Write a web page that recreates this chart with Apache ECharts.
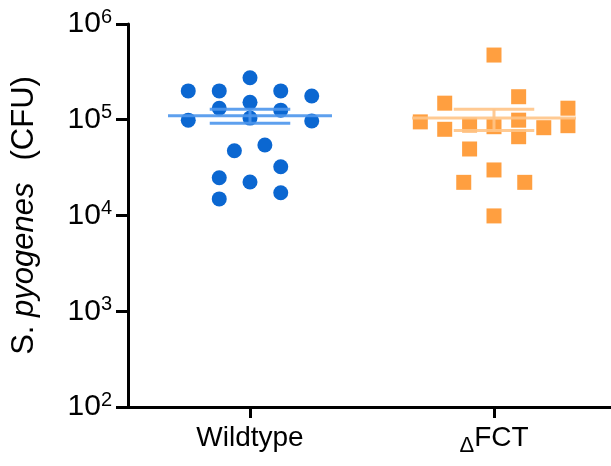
<!DOCTYPE html>
<html>
<head>
<meta charset="utf-8">
<script src="https://cdn.jsdelivr.net/npm/echarts@6/dist/echarts.min.js"></script>
<style>
html,body{margin:0;padding:0;background:#fff;}
#c{width:611px;height:466px;}
</style>
</head>
<body>
<div id="c"></div>
<script>
// ---- data ----
const categories = ['Wildtype', 'ΔFCT'];
const categoryPositions = [0, 1];

// horizontal jitter offsets (in category units) and CFU values
const wildtypeOffsets = [-0.253, -0.126, 0, 0.126, 0.253, -0.126, 0, 0.126, -0.253, 0, 0.253, -0.064, 0.061, 0.126, -0.126, 0, 0.126, -0.126];
const wildtypeValues  = [2.0e5, 2.0e5, 2.75e5, 2.0e5, 1.77e5, 1.32e5, 1.52e5, 1.26e5, 9.9e4, 1.04e5, 9.7e4, 4.75e4, 5.45e4, 3.23e4, 2.48e4, 2.24e4, 1.73e4, 1.49e4];

const fctOffsets = [0, -0.202, 0.101, 0.303, -0.302, -0.202, -0.1, 0, 0.101, 0.101, 0.204, 0.303, -0.1, 0, -0.124, 0.126, 0];
const fctValues  = [4.74e5, 1.49e5, 1.74e5, 1.32e5, 9.5e4, 7.95e4, 8.8e4, 8.46e4, 9.9e4, 6.65e4, 8.26e4, 8.67e4, 4.95e4, 2.99e4, 2.22e4, 2.22e4, 9.9e3];

// mean and error bar (lower / upper)
const means  = [1.10e5, 1.04e5];
const lowers = [9.2e4, 7.7e4];
const uppers = [1.29e5, 1.29e5];

// ---- styling ----
const pointColors = ['#0b67d1', '#ff9f40'];
const barColors = ['rgba(76,150,236,0.9)', 'rgba(255,196,135,0.9)'];
const FONT = '"Liberation Sans", Arial, sans-serif';

function pts(offsets, values, idx) {
  return values.map((v, i) => [categoryPositions[idx] + offsets[i], v]);
}

const chart = echarts.init(document.getElementById('c'), null, {renderer: 'canvas'});

const option = {
  animation: false,
  backgroundColor: '#fff',
  grid: {left: 128, right: 0, top: 24, bottom: 59, containLabel: false},
  xAxis: {
    type: 'value',
    min: -0.5,
    max: 1.4795,
    axisLine: {show: true, onZero: false, lineStyle: {color: '#000', width: 3}},
    axisTick: {show: true, customValues: categoryPositions, length: 11, lineStyle: {color: '#000', width: 3}},
    splitLine: {show: false},
    axisLabel: {
      customValues: categoryPositions,
      margin: 17,
      fontFamily: FONT,
      fontSize: 28,
      color: '#000',
      formatter: function (v) {
        const name = categories[Math.round(v)];
        if (name.charAt(0) === 'Δ') return '{d|Δ}{n|' + name.slice(1) + '}';
        return '{n|' + name + '}';
      },
      rich: {
        n: {fontFamily: FONT, fontSize: 28, color: '#000', verticalAlign: 'bottom', padding: [0, 0, 6, 0]},
        d: {fontFamily: FONT, fontSize: 22, color: '#000', verticalAlign: 'bottom', padding: [0, 0, 1, 0]}
      }
    }
  },
  yAxis: {
    type: 'log',
    logBase: 10,
    min: 100,
    max: 1e6,
    name: '{r|S. }{i|pyogenes}{r|(CFU)}',
    nameLocation: 'middle',
    nameRotate: 90,
    nameGap: 88,
    nameTextStyle: {
      fontFamily: FONT,
      fontSize: 31,
      color: '#000',
      rich: {
        r: {fontFamily: FONT, fontSize: 31, color: '#000'},
        i: {fontFamily: FONT, fontSize: 31, color: '#000', fontStyle: 'italic', padding: [0, 22, 0, 0]}
      }
    },
    axisLine: {show: true, onZero: false, lineStyle: {color: '#000', width: 3}},
    axisTick: {show: true, length: 12, lineStyle: {color: '#000', width: 3}},
    splitLine: {show: false},
    minorTick: {show: false},
    axisLabel: {
      margin: 16,
      formatter: function (v) {
        const e = Math.round(Math.log10(v));
        return '{b|10}{s|' + e + '}';
      },
      rich: {
        b: {fontFamily: FONT, fontSize: 30, color: '#000'},
        s: {fontFamily: FONT, fontSize: 20, color: '#000', verticalAlign: 'top', padding: [0, 0, 14, 0]}
      }
    }
  },
  series: [
    {
      type: 'scatter',
      name: categories[0],
      symbol: 'circle',
      symbolSize: 15,
      itemStyle: {color: pointColors[0], opacity: 1},
      data: pts(wildtypeOffsets, wildtypeValues, 0),
      z: 2
    },
    {
      type: 'scatter',
      name: categories[1],
      symbol: 'rect',
      symbolSize: 15,
      itemStyle: {color: pointColors[1], opacity: 1},
      data: pts(fctOffsets, fctValues, 1),
      z: 2
    },
    {
      type: 'custom',
      z: 3,
      encode: {x: 0, y: [1, 2, 3]},
      data: means.map((m, i) => [categoryPositions[i], m, lowers[i], uppers[i]]),
      renderItem: function (params, api) {
        const i = api.value(0);
        const meanHalf = 0.336, capHalf = 0.165;
        const c = barColors[params.dataIndex];
        const style = {stroke: c, lineWidth: 3, fill: null};
        const mL = api.coord([i - meanHalf, api.value(1)]);
        const mR = api.coord([i + meanHalf, api.value(1)]);
        const lo = api.coord([i, api.value(2)]);
        const hi = api.coord([i, api.value(3)]);
        const cL = api.coord([i - capHalf, api.value(1)]);
        const cR = api.coord([i + capHalf, api.value(1)]);
        return {
          type: 'group',
          children: [
            {type: 'line', shape: {x1: lo[0], y1: lo[1], x2: hi[0], y2: hi[1]}, style: style},
            {type: 'line', shape: {x1: cL[0], y1: hi[1], x2: cR[0], y2: hi[1]}, style: style},
            {type: 'line', shape: {x1: cL[0], y1: lo[1], x2: cR[0], y2: lo[1]}, style: style},
            {type: 'line', shape: {x1: mL[0], y1: mL[1], x2: mR[0], y2: mR[1]}, style: style}
          ]
        };
      }
    }
  ]
};
chart.setOption(option);
</script>
</body>
</html>
